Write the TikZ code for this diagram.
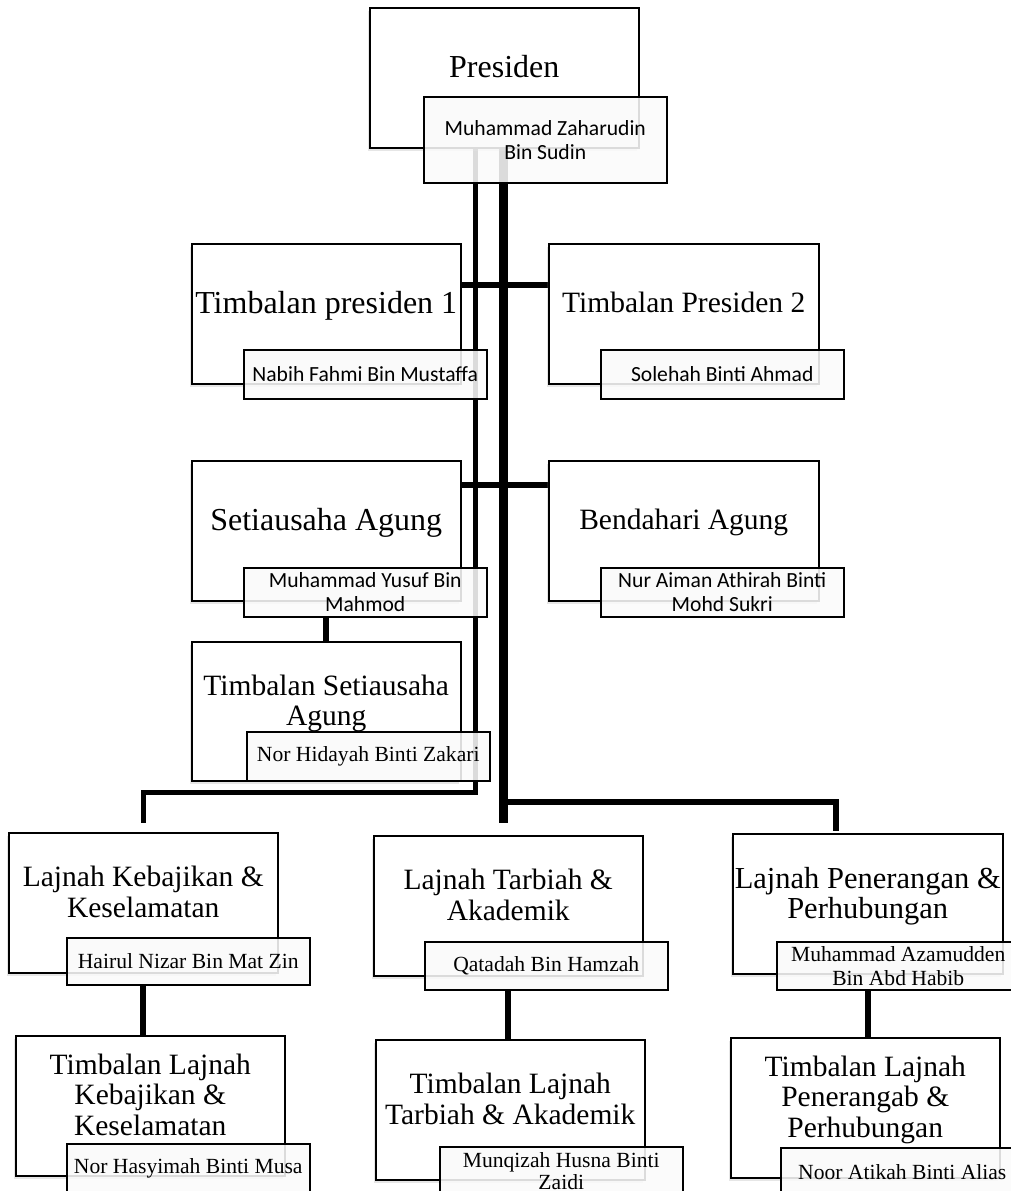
\documentclass[tikz,border=0pt]{standalone}
\usepackage{fontspec}
\setmainfont{Liberation Serif}
\newfontfamily\namesf{Carlito}
\usetikzlibrary{shadows,backgrounds}

\tikzset{
  post/.style={draw, line width=1.5pt, fill=white, anchor=north west,
    minimum width=269pt, minimum height=140pt, align=center, inner sep=2pt,
    text depth=22pt, font=\fontsize{32}{31}\selectfont,
    drop shadow={shadow xshift=-2pt, shadow yshift=-3pt, opacity=0.2}},
  smallpost/.style={post, font=\fontsize{29.5}{30.5}\selectfont},
  holder/.style={draw, line width=1.5pt, fill=gray!4, fill opacity=0.88, text opacity=1,
    anchor=north west, minimum width=243pt, minimum height=49pt, align=center,
    inner sep=1pt, font=\fontsize{21.6}{24}\selectfont},
  sansname/.style={holder, font=\namesf\fontsize{21.6}{24}\selectfont},
  link/.style={line width=6pt},
  spine/.style={line width=9pt},
  thinspine/.style={line width=5pt}
}

\begin{document}
\begin{tikzpicture}[x=1pt, y=-1pt]
    \useasboundingbox (0,0) rectangle (1010,1191);

    % top
    \node[post] (pres) at (369,7) {Presiden};
    \node[sansname, minimum height=86pt] (presnm) at (423,96) {Muhammad Zaharudin\\Bin Sudin};

    % timbalan presiden
    \node[post] (tp1) at (191,243) {Timbalan presiden 1};
    \node[sansname] (tp1nm) at (243,349) {Nabih Fahmi Bin Mustaffa};
    \node[smallpost, minimum width=270pt] (tp2) at (548,243) {Timbalan Presiden 2};
    \node[sansname] (tp2nm) at (600,349) {Solehah Binti Ahmad};

    % setiausaha, bendahari
    \node[post] (sa) at (191,460) {Setiausaha Agung};
    \node[sansname] (sanm) at (243,567) {Muhammad Yusuf Bin\\Mahmod};
    \node[smallpost, minimum width=270pt] (bd) at (548,460) {Bendahari Agung};
    \node[sansname] (bdnm) at (600,567) {Nur Aiman Athirah Binti\\Mohd Sukri};
    \node[smallpost, minimum height=139pt] (tsa) at (191,641) {Timbalan Setiausaha\\Agung};
    \node[holder] (tsanm) at (246,731) {Nor Hidayah Binti Zakari};

    % lajnah
    \node[smallpost] (lk) at (8,832) {Lajnah Kebajikan \&\\Keselamatan};
    \node[holder, minimum height=47pt] (lknm) at (66,937) {Hairul Nizar Bin Mat Zin};
    \node[smallpost] (tlk) at (15,1035) {Timbalan Lajnah\\Kebajikan \&\\Keselamatan};
    \node[holder] (tlknm) at (66,1143) {Nor Hasyimah Binti Musa};

    \node[smallpost] (lt) at (373,835) {Lajnah Tarbiah \&\\Akademik};
    \node[holder, minimum height=48pt] (ltnm) at (424,941) {Qatadah Bin Hamzah};
    \node[smallpost] (tlt) at (375,1039) {Timbalan Lajnah\\Tarbiah \& Akademik};
    \node[holder, font=\fontsize{21.6}{22}\selectfont] (tltnm) at (439,1146) {Munqizah Husna Binti\\Zaidi};

    \node[post, minimum width=270pt, font=\fontsize{30.5}{30.5}\selectfont] (lp) at (732,833) {Lajnah Penerangan \&\\Perhubungan};
    \node[holder, minimum height=48pt] (lpnm) at (776,941) {Muhammad Azamudden\\Bin Abd Habib};
    \node[smallpost] (tlp) at (730,1037) {Timbalan Lajnah\\Penerangab \&\\Perhubungan};
    \node[holder] (tlpnm) at (780,1147) {Noor Atikah Binti Alias};

    % connectors
    \begin{scope}[on background layer]
        \coordinate (elbowL) at (475,792);
        \coordinate (elbowR) at (503,802);
        \coordinate (lkTop) at ([yshift=9pt]lk.north);
        \coordinate (ltTop) at ([yshift=12pt]lt.north);
        \coordinate (lpTop) at ([xshift=-32pt,yshift=2pt]lp.north);
        \draw[thinspine] (pres.south -| elbowL) -- (elbowL) -| (lkTop);
        \draw[spine] (pres.south -| elbowR) -- (ltTop -| elbowR);
        \draw[link] (elbowR) -| (lpTop);
        \draw[link] ([yshift=-42pt]tp1.north east) -- ([yshift=-42pt]tp2.north west);
        \draw[link] ([yshift=-25pt]sa.north east) -- ([yshift=-25pt]bd.north west);
        \draw[link] (sanm.south -| tsa.north) -- (tsa.north);
        \draw[link] (lknm.south -| lk.south) -- (tlk.north -| lk.south);
        \draw[link] (ltnm.south -| lt.south) -- (tlt.north -| lt.south);
        \draw[link] (lpnm.south -| lp.south) -- (tlp.north -| lp.south);
    \end{scope}
\end{tikzpicture}
\end{document}
